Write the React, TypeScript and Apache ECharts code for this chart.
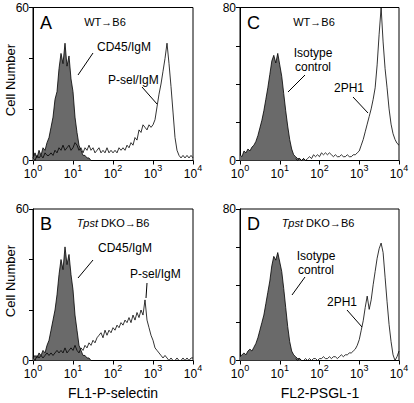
import React, { useEffect, useRef } from 'react';
import * as echarts from 'echarts';

// log10 bin width of the histogram channels
const STEP = 0.05;

// Panel A (WT→B6, FL1-P-selectin) — counts per channel
const grayAStart = 0;
const grayA = [1, 3, 1, 4, 2, 5, 4, 7, 9, 13, 17, 24, 27, 36, 42, 38, 46, 37, 41, 32, 27, 17, 11, 6, 4, 2, 2, 1, 1, 0];
const lineAStart = 0;
const lineA = [
  1, 0, 2, 1, 2, 1, 3, 2, 2, 3, 2, 4, 3, 5, 4, 6, 4, 5, 6, 4,
  5, 7, 6, 4, 5, 3, 5, 4, 6, 4, 5, 3, 4, 5, 3, 4, 3, 5, 3, 4,
  3, 4, 3, 5, 4, 5, 4, 6, 5, 7, 6, 9, 8, 12, 11, 14, 13, 12, 14, 13,
  14, 16, 21, 26, 30, 35, 40, 46, 38, 29, 19, 9, 4, 2, 1, 2, 1, 2, 1, 2, 1,
];

// Panel B (Tpst DKO→B6, FL1-P-selectin)
const grayBStart = 0;
const grayB = [1, 2, 1, 3, 2, 4, 3, 6, 8, 12, 16, 20, 26, 34, 40, 36, 45, 38, 42, 34, 28, 18, 12, 6, 4, 2, 2, 1, 1, 0];
const lineBStart = 0;
const lineB = [
  1, 0, 2, 1, 2, 1, 2, 3, 2, 3, 2, 3, 4, 3, 4, 3, 5, 3, 4, 5,
  4, 6, 4, 3, 5, 4, 6, 5, 7, 6, 8, 7, 9, 10, 11, 9, 12, 10, 12, 11,
  13, 12, 14, 13, 15, 14, 16, 15, 17, 15, 18, 16, 19, 17, 20, 18, 24, 16, 13, 10,
  8, 5, 4, 3, 2, 1, 2, 1, 0, 1, 0, 0, 1, 0, 0, 1, 0, 1, 0, 1, 1,
];

// Panel C (WT→B6, FL2-PSGL-1)
const grayCStart = 0;
const grayC = [3, 2, 5, 4, 6, 5, 7, 8, 10, 13, 17, 21, 26, 32, 38, 45, 52, 55, 51, 56, 50, 44, 35, 26, 18, 11, 6, 3, 2, 1, 1, 0, 1, 0];
const lineCStart = 1.4;
const lineC = [
  1, 0, 1, 0, 1, 0, 1, 2, 1, 3, 2, 3, 2, 4, 3, 4, 3, 4, 3, 2,
  3, 2, 2, 3, 2, 2, 3, 2, 2, 3, 3, 4, 5, 8, 11, 15, 19, 23, 27, 32,
  38, 50, 66, 80, 62, 48, 38, 27, 19, 14, 11, 9, 8,
];

// Panel D (Tpst DKO→B6, FL2-PSGL-1)
const grayDStart = 0;
const grayD = [2, 3, 4, 3, 5, 6, 5, 7, 9, 12, 16, 20, 24, 30, 36, 42, 50, 55, 53, 57, 52, 47, 38, 28, 18, 10, 5, 3, 2, 1, 1, 0];
const lineDStart = 1.4;
const lineD = [
  1, 0, 1, 0, 0, 1, 0, 1, 0, 1, 1, 0, 1, 1, 2, 1, 1, 2, 1, 2,
  2, 1, 2, 3, 2, 3, 3, 4, 4, 5, 6, 8, 11, 16, 21, 28, 34, 27, 32, 40,
  47, 54, 59, 62, 57, 44, 31, 19, 10, 3, 0, 2, 5,
];

const xTicks = [1, 10, 100, 1000, 10000];
const yMaxLeft = 60;
const yMaxRight = 80;
const xNames = ['FL1-P-selectin', 'FL2-PSGL-1'];
const yName = 'Cell Number';

const FONT = '"Liberation Sans", Arial, Helvetica, sans-serif';
const GRAY = '#6a6a6a';

function pairs(vals: number[], start: number) {
  return vals.map((v, i) => [Math.pow(10, start + i * STEP), v]);
}

export default function App() {
  const ref = useRef<HTMLDivElement>(null);

  useEffect(() => {
    if (!ref.current) return;
    const chart = echarts.init(ref.current, null, { renderer: 'svg' });

    const grids = [
      { left: 33, top: 7.5, width: 160, height: 153 },
      { left: 33, top: 209, width: 160, height: 151.5 },
      { left: 240, top: 7.5, width: 159, height: 153 },
      { left: 240, top: 209, width: 159, height: 151.5 },
    ].map((g) => ({ ...g, show: true, borderColor: '#000', borderWidth: 1, backgroundColor: 'transparent' }));

    const maxes = [yMaxLeft, yMaxLeft, yMaxRight, yMaxRight];

    const xAxis = grids.map((_, i) => ({
      type: 'log',
      logBase: 10,
      min: xTicks[0],
      max: xTicks[xTicks.length - 1],
      gridIndex: i,
      axisLine: { show: true, lineStyle: { color: '#000', width: 1 } },
      axisTick: { show: true, length: 4, lineStyle: { color: '#000' } },
      minorTick: { show: false },
      splitLine: { show: false },
      axisLabel: {
        margin: 3,
        color: '#000',
        formatter: (v: number) => `{a|10}{b|${Math.round(Math.log10(v))}}`,
        rich: {
          a: { fontSize: 12, fontFamily: FONT, color: '#000', lineHeight: 16, verticalAlign: 'bottom' },
          b: { fontSize: 9, fontFamily: FONT, color: '#000', lineHeight: 16, verticalAlign: 'top' },
        },
      },
    }));

    const yAxis = grids.map((_, i) => ({
      type: 'value',
      min: 0,
      max: maxes[i],
      interval: 20,
      gridIndex: i,
      axisLine: { show: true, lineStyle: { color: '#000', width: 1 } },
      axisTick: { show: true, length: 4, lineStyle: { color: '#000' } },
      splitLine: { show: false },
      axisLabel: {
        margin: 4,
        color: '#000',
        fontSize: 12,
        fontFamily: FONT,
        padding: [0, 0, 3, 0],
        formatter: (v: number) => (v === 0 || v === maxes[i] ? String(v) : ''),
      },
    }));

    const grays = [pairs(grayA, grayAStart), pairs(grayB, grayBStart), pairs(grayC, grayCStart), pairs(grayD, grayDStart)];
    const lines = [pairs(lineA, lineAStart), pairs(lineB, lineBStart), pairs(lineC, lineCStart), pairs(lineD, lineDStart)];

    const series: any[] = [];
    grays.forEach((d, i) => {
      series.push({
        type: 'line',
        xAxisIndex: i,
        yAxisIndex: i,
        data: d,
        symbol: 'none',
        lineStyle: { color: '#000', width: 0.8 },
        areaStyle: { color: GRAY, opacity: 1 },
        z: 2,
      });
    });
    lines.forEach((d, i) => {
      series.push({
        type: 'line',
        xAxisIndex: i,
        yAxisIndex: i,
        data: d,
        symbol: 'none',
        lineStyle: { color: '#000', width: 0.8 },
        z: 3,
      });
    });

    const txt = (text: string, x: number, y: number, fontSize: number, align = 'left', extra: any = {}) => ({
      type: 'text',
      x,
      y,
      ...extra,
      style: { text, fontSize, fontFamily: FONT, fill: '#000', align, verticalAlign: 'middle', ...(extra.style || {}) },
    });
    const ln = (x1: number, y1: number, x2: number, y2: number) => ({
      type: 'line',
      shape: { x1, y1, x2, y2 },
      style: { stroke: '#000', lineWidth: 1 },
    });
    const italicRich = { i: { fontStyle: 'italic', fontSize: 11, fontFamily: FONT, fill: '#000' } };

    const graphic = [
      txt('A', 40, 23, 18),
      txt('B', 40, 224, 18),
      txt('C', 247, 23, 18),
      txt('D', 247, 224, 18),
      txt('WT→B6', 105, 22, 11, 'center'),
      txt('WT→B6', 314, 22, 11, 'center'),
      txt('{i|Tpst} DKO→B6', 113, 223, 11, 'center', { style: { rich: italicRich } }),
      txt('{i|Tpst} DKO→B6', 318, 223, 11, 'center', { style: { rich: italicRich } }),
      txt('CD45/IgM', 97, 47, 12),
      txt('P-sel/IgM', 108, 80, 12),
      txt('CD45/IgM', 98, 248, 12),
      txt('P-sel/IgM', 130, 274, 12),
      txt('Isotype', 313, 53, 12, 'center'),
      txt('control', 313, 67, 12, 'center'),
      txt('2PH1', 334, 88, 12),
      txt('Isotype', 316, 256, 12, 'center'),
      txt('control', 316, 270, 12, 'center'),
      txt('2PH1', 327, 302, 12),
      ln(78, 75, 93, 53),
      ln(157, 104, 142, 87),
      ln(78, 278, 93, 260),
      ln(146, 298, 147, 283),
      ln(288, 92, 305, 75),
      ln(368, 113, 353, 97),
      ln(292, 295, 305, 277),
      ln(362, 327, 347, 310),
      txt(yName, 10, 80, 13, 'center', { rotation: Math.PI / 2 }),
      txt(yName, 10, 281, 13, 'center', { rotation: Math.PI / 2 }),
      txt(xNames[0], 113, 393, 14, 'center'),
      txt(xNames[1], 320, 393, 14, 'center'),
    ];

    chart.setOption({
      animation: false,
      textStyle: { fontFamily: FONT, color: '#000' },
      grid: grids,
      xAxis,
      yAxis,
      series,
      graphic,
    });

    return () => chart.dispose();
  }, []);

  return (
    <div
      ref={ref}
      style={{ position: 'absolute', left: 0, top: 0, width: 414, height: 403, background: '#fff' }}
    />
  );
}
